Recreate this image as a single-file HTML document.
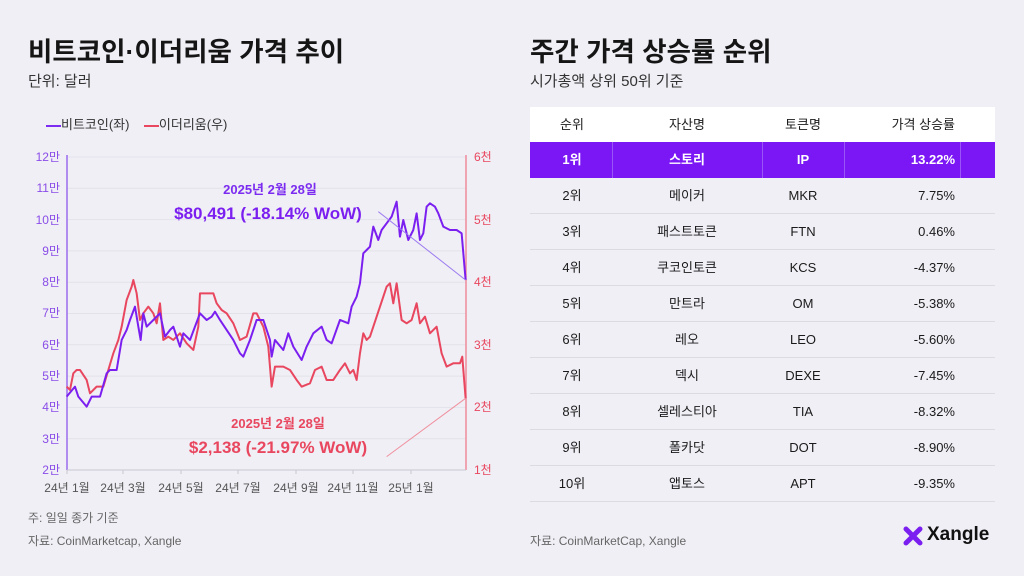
<!DOCTYPE html>
<html><head><meta charset="utf-8"><style>
*{margin:0;padding:0;box-sizing:border-box}
body{width:1024px;height:576px;background:#f0eff5;font-family:"Liberation Sans","Noto Sans CJK KR",sans-serif;position:relative;overflow:hidden;color:#1a1a1a}
.a{position:absolute;white-space:nowrap}
.h1{font-size:26.5px;font-weight:bold;color:#151515}
.sub{font-size:15px;color:#333}
.note{font-size:12px;color:#666}
.row{position:absolute;left:530px;width:465px;height:36px;border-bottom:1px solid #dcdbe3;font-size:13px}
.row span{position:absolute;top:0;line-height:36px}
.c1{left:22px;width:40px;text-align:center}
.c2{left:107px;width:100px;text-align:center}
.c3{left:233px;width:80px;text-align:center}
.c4{right:40px;text-align:right}
</style></head><body>
<div class="a h1" style="left:28px;top:30px">비트코인·이더리움 가격 추이</div>
<div class="a sub" style="left:28px;top:70px">단위: 달러</div>
<div class="a" style="left:46px;top:114px;font-size:13px;color:#333"><span style="display:inline-block;width:15px;height:2px;background:#7b2cf0;vertical-align:middle"></span>비트코인(좌) &nbsp;&nbsp;&nbsp;<span style="display:inline-block;width:15px;height:2px;background:#e8475f;vertical-align:middle"></span>이더리움(우)</div>

<svg class="a" style="left:0;top:0" width="520" height="576" viewBox="0 0 520 576">
<g font-size="12" fill="#8a4de8" text-anchor="end">
<g stroke="#e3e2ea" stroke-width="1">
<line x1="67" x2="466" y1="157" y2="157"/><line x1="67" x2="466" y1="188.3" y2="188.3"/><line x1="67" x2="466" y1="219.6" y2="219.6"/><line x1="67" x2="466" y1="250.9" y2="250.9"/><line x1="67" x2="466" y1="282.2" y2="282.2"/><line x1="67" x2="466" y1="313.5" y2="313.5"/><line x1="67" x2="466" y1="344.8" y2="344.8"/><line x1="67" x2="466" y1="376.1" y2="376.1"/><line x1="67" x2="466" y1="407.4" y2="407.4"/><line x1="67" x2="466" y1="438.7" y2="438.7"/>
</g>
<text x="60" y="161">12만</text><text x="60" y="192">11만</text><text x="60" y="224">10만</text><text x="60" y="255">9만</text><text x="60" y="286">8만</text><text x="60" y="317">7만</text><text x="60" y="349">6만</text><text x="60" y="380">5만</text><text x="60" y="411">4만</text><text x="60" y="443">3만</text><text x="60" y="474">2만</text>
</g>
<g font-size="12" fill="#e8475f">
<text x="474" y="161">6천</text><text x="474" y="224">5천</text><text x="474" y="286">4천</text><text x="474" y="349">3천</text><text x="474" y="411">2천</text><text x="474" y="474">1천</text>
</g>
<line x1="67" y1="155" x2="67" y2="470" stroke="#9b6bf0" stroke-width="1.5"/>
<line x1="466" y1="155" x2="466" y2="470" stroke="#f08a9a" stroke-width="1.5"/>
<line x1="67" y1="470" x2="466" y2="470" stroke="#c8c6d0"/>
<g stroke="#c8c6d0"><line x1="67" x2="67" y1="470" y2="474"/><line x1="123" x2="123" y1="470" y2="474"/><line x1="181" x2="181" y1="470" y2="474"/><line x1="238" x2="238" y1="470" y2="474"/><line x1="296" x2="296" y1="470" y2="474"/><line x1="353" x2="353" y1="470" y2="474"/><line x1="411" x2="411" y1="470" y2="474"/></g>
<g font-size="12" fill="#555" text-anchor="middle">
<text x="67" y="492">24년 1월</text><text x="123" y="492">24년 3월</text><text x="181" y="492">24년 5월</text><text x="238" y="492">24년 7월</text><text x="296" y="492">24년 9월</text><text x="353" y="492">24년 11월</text><text x="411" y="492">25년 1월</text>
</g>
<g transform="translate(20,140) scale(0.3333)" fill="none" stroke-linejoin="round">
<polyline stroke="#e8475f" stroke-width="6" points="140,740 150,750 160,700 170,690 180,690 200,720 210,760 230,740 250,740 265,690 280,640 295,600 305,560 320,480 335,440 340,420 350,460 360,540 370,520 385,500 400,520 410,550 420,490 430,600 445,590 460,600 480,580 500,610 520,630 535,560 540,460 560,460 580,460 590,490 605,510 620,520 640,550 660,600 680,590 700,520 710,520 730,560 745,620 755,740 765,680 790,680 810,690 830,720 845,740 870,730 885,690 905,680 920,720 940,720 960,690 975,670 990,700 1000,690 1010,720 1020,640 1030,580 1040,600 1050,590 1060,560 1080,500 1100,440 1110,430 1120,490 1130,430 1145,540 1160,550 1175,540 1190,490 1200,550 1215,530 1230,580 1250,560 1265,640 1280,680 1300,670 1320,670 1327,650 1337,775"/>
<polyline stroke="#7b1ff0" stroke-width="6" points="140,770 165,740 175,770 200,800 215,770 240,770 260,700 270,690 290,690 305,600 320,570 330,540 345,500 355,560 362,600 370,520 380,560 400,540 420,520 435,590 450,570 460,560 480,620 490,580 510,600 525,560 540,520 560,540 575,530 585,515 600,540 620,570 640,600 660,640 670,650 690,600 710,540 730,540 750,600 755,650 765,600 790,630 805,580 820,620 845,660 860,620 880,580 905,560 920,600 935,610 960,540 985,550 995,500 1010,470 1020,430 1030,340 1040,330 1050,320 1060,260 1075,300 1085,270 1100,250 1115,230 1130,185 1140,290 1150,240 1165,300 1180,270 1190,220 1200,300 1210,280 1220,200 1230,190 1245,200 1255,220 1270,260 1290,270 1310,270 1325,280 1337,420"/>
<line x1="1075" y1="215" x2="1337" y2="420" stroke="#9b7bf0" stroke-width="3"/>
<line x1="1100" y1="950" x2="1337" y2="775" stroke="#f0909f" stroke-width="3"/>
</g>
<g font-weight="bold" text-anchor="middle">
<text x="270" y="194" font-size="13" fill="#7b2cf0">2025년 2월 28일</text>
<text x="268" y="219" font-size="17" fill="#7b1ff0">$80,491 (-18.14% WoW)</text>
<text x="278" y="428" font-size="13" fill="#e8475f">2025년 2월 28일</text>
<text x="278" y="453" font-size="17" fill="#e8475f">$2,138 (-21.97% WoW)</text>
</g>
</svg>
<div class="a note" style="left:28px;top:509px">주: 일일 종가 기준</div>
<div class="a note" style="left:28px;top:532px">자료: CoinMarketcap, Xangle</div>

<div class="a h1" style="left:530px;top:30px">주간 가격 상승률 순위</div>
<div class="a sub" style="left:530px;top:70px">시가총액 상위 50위 기준</div>

<div class="row" style="top:107px;height:35px;background:#fff;border:none"><span class="c1" style="line-height:35px">순위</span><span class="c2" style="line-height:35px">자산명</span><span class="c3" style="line-height:35px">토큰명</span><span class="c4" style="line-height:35px">가격 상승률</span></div>
<div class="row" style="top:142px;background:#7b16f5;color:#fff;font-weight:bold;border:none">
<div style="position:absolute;left:82px;top:0;width:1px;height:36px;background:#9a55f7"></div><div style="position:absolute;left:232px;top:0;width:1px;height:36px;background:#9a55f7"></div><div style="position:absolute;left:314px;top:0;width:1px;height:36px;background:#9a55f7"></div><div style="position:absolute;left:430px;top:0;width:1px;height:36px;background:#9a55f7"></div>
<span class="c1">1위</span><span class="c2">스토리</span><span class="c3">IP</span><span class="c4">13.22%</span></div>
<div class="row" style="top:178px"><span class="c1">2위</span><span class="c2">메이커</span><span class="c3">MKR</span><span class="c4">7.75%</span></div>
<div class="row" style="top:214px"><span class="c1">3위</span><span class="c2">패스트토큰</span><span class="c3">FTN</span><span class="c4">0.46%</span></div>
<div class="row" style="top:250px"><span class="c1">4위</span><span class="c2">쿠코인토큰</span><span class="c3">KCS</span><span class="c4">-4.37%</span></div>
<div class="row" style="top:286px"><span class="c1">5위</span><span class="c2">만트라</span><span class="c3">OM</span><span class="c4">-5.38%</span></div>
<div class="row" style="top:322px"><span class="c1">6위</span><span class="c2">레오</span><span class="c3">LEO</span><span class="c4">-5.60%</span></div>
<div class="row" style="top:358px"><span class="c1">7위</span><span class="c2">덱시</span><span class="c3">DEXE</span><span class="c4">-7.45%</span></div>
<div class="row" style="top:394px"><span class="c1">8위</span><span class="c2">셀레스티아</span><span class="c3">TIA</span><span class="c4">-8.32%</span></div>
<div class="row" style="top:430px"><span class="c1">9위</span><span class="c2">폴카닷</span><span class="c3">DOT</span><span class="c4">-8.90%</span></div>
<div class="row" style="top:466px"><span class="c1">10위</span><span class="c2">앱토스</span><span class="c3">APT</span><span class="c4">-9.35%</span></div>

<div class="a note" style="left:530px;top:532px">자료: CoinMarketCap, Xangle</div>
<svg class="a" style="left:903px;top:526px" width="20" height="20" viewBox="0 0 20 20"><g stroke="#7b1ff0" stroke-width="5" stroke-linecap="round"><line x1="3" y1="3" x2="17" y2="17"/><line x1="17" y1="3" x2="3" y2="17"/></g></svg>
<div class="a" style="left:927px;top:524px;font-size:19px;font-weight:bold;color:#111">Xangle</div>
</body></html>
